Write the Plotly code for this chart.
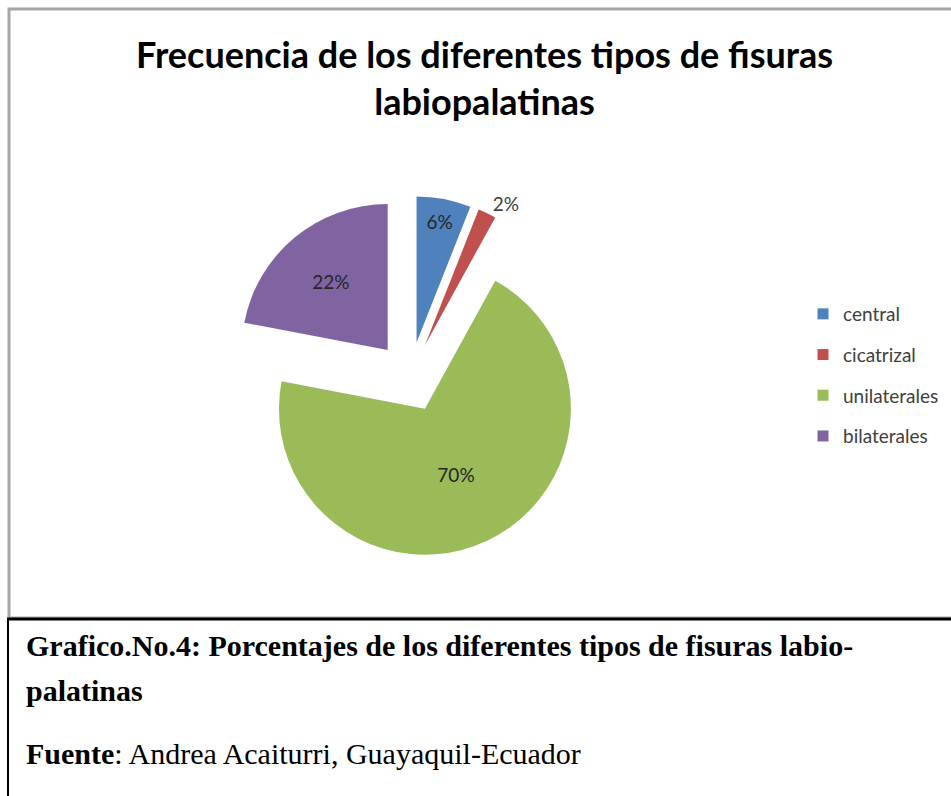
import plotly.graph_objects as go

# data (percentages)
categorias = ["central", "cicatrizal", "unilaterales", "bilaterales"]
porcentajes = [6, 2, 70, 22]
colores = ["#4F81BD", "#C0504D", "#9BBB59", "#8064A2"]
posicion_texto = ["inside", "outside", "inside", "inside"]

titulo = "Frecuencia de los diferentes tipos de fisuras<br>labiopalatinas"
pie_linea1 = "<b>Grafico.No.4: Porcentajes de los diferentes tipos de fisuras labio-</b>"
pie_linea2 = "<b>palatinas</b>"
fuente = "<b>Fuente</b>: Andrea Acaiturri, Guayaquil-Ecuador"

W, H = 951, 796

fig = go.Figure()

fig.add_trace(go.Pie(
    labels=categorias,
    values=porcentajes,
    sort=False,
    direction="clockwise",
    rotation=0,
    pull=[0.24] * len(porcentajes),
    marker=dict(colors=colores, line=dict(width=0)),
    texttemplate="%{percent:.0%}",
    textposition=posicion_texto,
    insidetextorientation="horizontal",
    textfont=dict(family="Lato", size=19, color="#262626"),
    outsidetextfont=dict(family="Lato", size=19, color="#404040"),
    domain=dict(x=[229 / W, 591 / W], y=[1 - 558 / H, 1 - 196 / H]),
    showlegend=False,
))

# legend entries (one group each so the rows get the same spacing as the original)
for nombre, color in zip(categorias, colores):
    fig.add_trace(go.Scatter(
        x=[None], y=[None], mode="markers", name=nombre,
        legendgroup=nombre,
        marker=dict(symbol="square", size=11, color=color),
    ))

# chart frame (grey) and caption box (black)
fig.add_shape(type="rect", xref="paper", yref="paper",
              x0=9 / W, x1=1.02, y0=1 - 618 / H, y1=1 - 9 / H,
              line=dict(color="#a6a6a6", width=3))
fig.add_shape(type="line", xref="paper", yref="paper",
              x0=7 / W, x1=1.02, y0=1 - 619 / H, y1=1 - 619 / H,
              line=dict(color="#000000", width=3))
fig.add_shape(type="line", xref="paper", yref="paper",
              x0=8 / W, x1=8 / W, y0=-0.02, y1=1 - 619 / H,
              line=dict(color="#000000", width=2))

fig.add_annotation(text="<b>" + titulo + "</b>", xref="paper", yref="paper",
                   x=484 / W, y=1 - 30 / H, xanchor="center", yanchor="top",
                   showarrow=False,
                   font=dict(family="Lato", size=36, color="#000000"))

cap_font = dict(family="Liberation Serif", size=30, color="#000000")
fig.add_annotation(text=pie_linea1, xref="paper", yref="paper",
                   x=24 / W, y=1 - 645 / H, xanchor="left", yanchor="middle",
                   showarrow=False, font=cap_font)
fig.add_annotation(text=pie_linea2, xref="paper", yref="paper",
                   x=24 / W, y=1 - 690 / H, xanchor="left", yanchor="middle",
                   showarrow=False, font=cap_font)
fig.add_annotation(text=fuente, xref="paper", yref="paper",
                   x=24 / W, y=1 - 753 / H, xanchor="left", yanchor="middle",
                   showarrow=False, font=cap_font)

fig.update_layout(
    width=W,
    height=H,
    margin=dict(l=0, r=0, t=0, b=0),
    paper_bgcolor="white",
    plot_bgcolor="white",
    xaxis=dict(visible=False),
    yaxis=dict(visible=False),
    legend=dict(x=803 / W, y=1 - 295 / H, xanchor="left", yanchor="top",
                font=dict(family="Lato", size=19, color="#404040"),
                tracegroupgap=13, itemwidth=30,
                bgcolor="rgba(0,0,0,0)"),
)

fig.write_html("out.html", config={"displayModeBar": False},
               post_script="document.body.style.margin='0';")
